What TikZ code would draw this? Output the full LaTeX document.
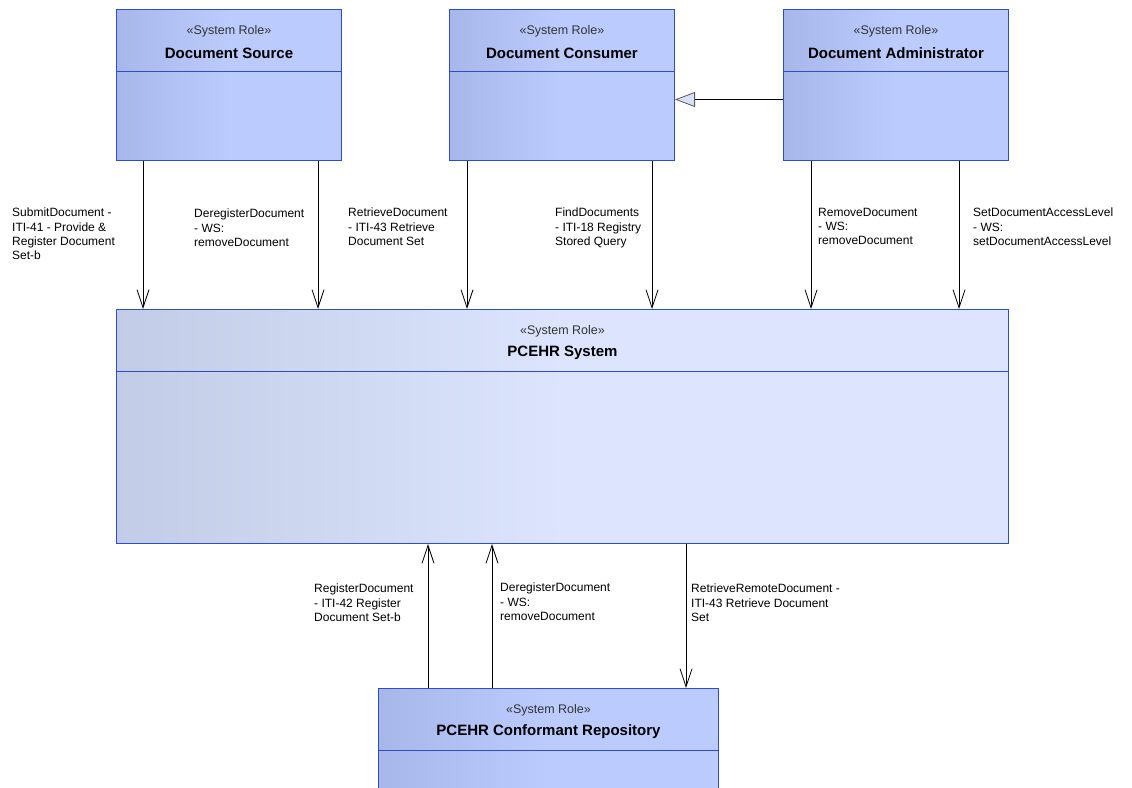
\documentclass[tikz,border=0pt]{standalone}
\usepackage{fontspec}
\setmainfont{Liberation Sans}
\usetikzlibrary{arrows.meta}

\definecolor{roleedge}{HTML}{2D4CD6}
\definecolor{roledark}{HTML}{A8B7E9}
\definecolor{rolelight}{HTML}{BCCBFD}
\definecolor{sysdark}{HTML}{C3CCE6}
\definecolor{syslight}{HTML}{DCE5FD}
\definecolor{genfill}{HTML}{D8E0F8}

\tikzset{
  rolebox/.style={draw=roleedge, line width=1pt, rectangle, anchor=north west, inner sep=0pt,
    left color=roledark, right color=rolelight, middle color=rolelight},
  sysbox/.style={draw=roleedge, line width=1pt, rectangle, anchor=north west, inner sep=0pt,
    left color=sysdark, right color=syslight, middle color=syslight},
  stereo/.style={font=\fontsize{12.5}{14}\selectfont, text=black!80, inner sep=0pt},
  roletitle/.style={font=\fontsize{15}{18}\selectfont\bfseries, inner sep=0pt},
  lbl/.style={font=\fontsize{12}{14.2}\selectfont, align=left, anchor=north west, inner sep=0pt},
  flow/.style={-{Straight Barb[length=18pt,width=12pt]}, line width=0.8pt},
  gen/.style={-{Triangle[length=20pt,width=15pt,fill=genfill,color=black!65]}, line width=0.8pt}
}

\begin{document}
\begin{tikzpicture}[x=1pt,y=-1pt]
  \useasboundingbox (0,0) rectangle (1132,787);

  \foreach \n/\x/\t in {src/116/Document Source, con/449/Document Consumer, adm/783/Document Administrator} {
    \node[rolebox, minimum width=225pt, minimum height=151pt] (\n) at (\x,9) {};
    \draw[roleedge, line width=1pt] ([yshift=-62pt]\n.north west) -- ([yshift=-62pt]\n.north east);
    \node[stereo] (\n-st) at ([yshift=-22pt]\n.north) {«System Role»};
    \node[roletitle] (\n-tt) at ([yshift=-44pt]\n.north) {\t};
  }

  \node[sysbox, minimum width=892pt, minimum height=234pt] (sys) at (116,309) {};
  \draw[roleedge, line width=1pt] ([yshift=-62pt]sys.north west) -- ([yshift=-62pt]sys.north east);
  \node[stereo] (sys-st) at ([yshift=-22pt]sys.north) {«System Role»};
  \node[roletitle] (sys-tt) at ([yshift=-44pt]sys.north) {PCEHR System};

  \node[rolebox, minimum width=340pt, minimum height=130pt] (rep) at (378,688) {};
  \draw[roleedge, line width=1pt] ([yshift=-62pt]rep.north west) -- ([yshift=-62pt]rep.north east);
  \node[stereo] (rep-st) at ([yshift=-22pt]rep.north) {«System Role»};
  \node[roletitle] (rep-tt) at ([yshift=-44pt]rep.north) {PCEHR Conformant Repository};

  \draw[gen] ([yshift=-14.5pt]adm.west) coordinate (g) -- (g -| con.east);

  \foreach \n/\d [count=\i] in {src/27, src/202, con/18, con/203, adm/28, adm/176}
    \draw[flow] ([xshift=\d pt]\n.south west) coordinate (t\i) -- (t\i |- sys.north);

  \draw[flow] ([xshift=50pt]rep.north west) coordinate (b1) -- (b1 |- sys.south);
  \draw[flow] ([xshift=114pt]rep.north west) coordinate (b2) -- (b2 |- sys.south);
  \path ([xshift=308pt]rep.north west) coordinate (b3);
  \draw[flow] (b3 |- sys.south) -- (b3);

  \node[lbl] (l1) at (12,208) {SubmitDocument -\\ITI-41 - Provide \&\\Register Document\\Set-b};
  \node[lbl] (l2) at (194,209) {DeregisterDocument\\- WS:\\removeDocument};
  \node[lbl] (l3) at (348,208) {RetrieveDocument\\- ITI-43 Retrieve\\Document Set};
  \node[lbl] (l4) at (555,208) {FindDocuments\\- ITI-18 Registry\\Stored Query};
  \node[lbl] (l5) at (818,208) {RemoveDocument\\- WS:\\removeDocument};
  \node[lbl] (l6) at (973,208) {SetDocumentAccessLevel\\- WS:\\setDocumentAccessLevel};
  \node[lbl] (l7) at (314,584) {RegisterDocument\\- ITI-42 Register\\Document Set-b};
  \node[lbl] (l8) at (500,583) {DeregisterDocument\\- WS:\\removeDocument};
  \node[lbl] (l9) at (691,584) {RetrieveRemoteDocument -\\ITI-43 Retrieve Document\\Set};
\end{tikzpicture}
\end{document}
